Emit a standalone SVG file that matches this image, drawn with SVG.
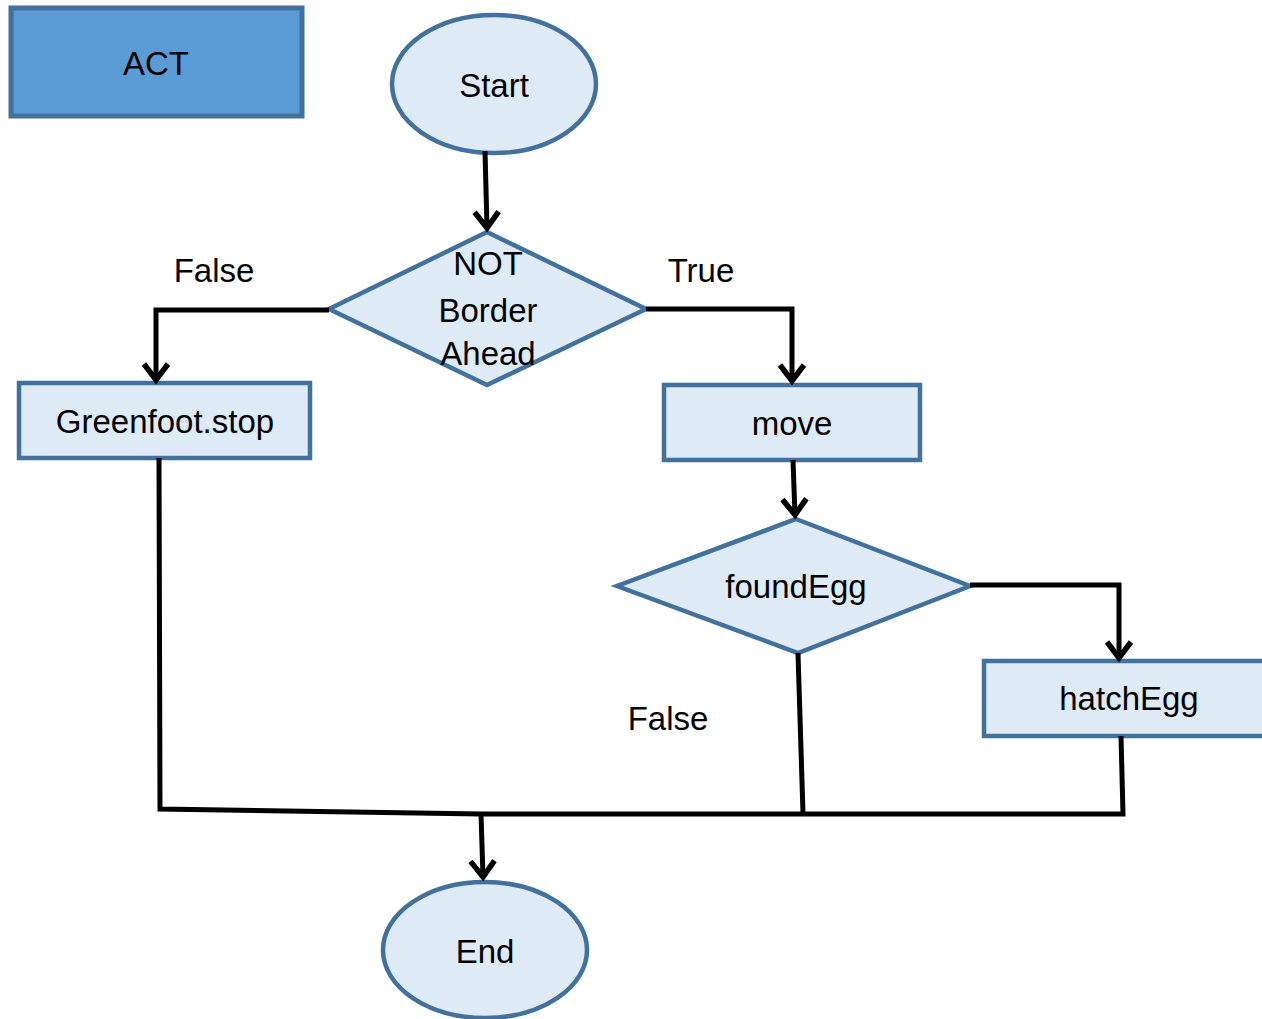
<svg xmlns="http://www.w3.org/2000/svg" width="1262" height="1019" viewBox="0 0 1262 1019">
<style>
.n{fill:#DEEAF6;stroke:#41719C;stroke-width:4.5}
.act{fill:#5B9BD5;stroke:#41719C;stroke-width:5}
.t{font-family:"Liberation Sans",Arial,sans-serif;font-size:33px;fill:#000;text-anchor:middle}
.c{fill:none;stroke:#000;stroke-width:5;stroke-linejoin:miter}
</style>
<defs>
<marker id="ah" markerUnits="userSpaceOnUse" markerWidth="34" markerHeight="34" refX="22" refY="17" orient="auto" viewBox="0 0 34 34">
<path d="M6,5 L22,17 L6,29" fill="none" stroke="#000" stroke-width="5.5"/>
</marker>
</defs>
<g id="act"><rect class="act" x="11" y="8" width="291" height="108"/><text class="t" x="156" y="75">ACT</text></g>
<g id="start"><ellipse class="n" cx="494" cy="84" rx="102" ry="69"/><text class="t" x="494" y="97">Start</text></g>
<g id="decision1"><polygon class="n" points="487,232 646,309 487,385 329,309"/><text class="t" x="488" y="275">NOT</text><text class="t" x="488" y="322">Border</text><text class="t" x="488" y="365">Ahead</text></g>
<g id="stop"><rect class="n" x="19" y="383" width="291" height="75"/><text class="t" x="165" y="433">Greenfoot.stop</text></g>
<g id="move"><rect class="n" x="664" y="385" width="256" height="75"/><text class="t" x="792" y="435">move</text></g>
<g id="decision2"><polygon class="n" points="796,519 970,586 798,653 617,586"/><text class="t" x="796" y="598">foundEgg</text></g>
<g id="hatch"><rect class="n" x="984" y="661" width="284" height="75"/><text class="t" x="1129" y="710">hatchEgg</text></g>
<g id="end"><ellipse class="n" cx="485" cy="950" rx="102" ry="68"/><text class="t" x="485" y="963">End</text></g>
<g id="connectors">
<path class="c" d="M485,151 L487,228" marker-end="url(#ah)"/>
<path class="c" d="M329,310 L156,310 L156,380" marker-end="url(#ah)"/>
<path class="c" d="M646,309 L792,309 L792,381" marker-end="url(#ah)"/>
<path class="c" d="M793,460 L795,515" marker-end="url(#ah)"/>
<path class="c" d="M970,585 L1119,585 L1119,658" marker-end="url(#ah)"/>
<path class="c" d="M159,458 L160,809 L481,814"/>
<path class="c" d="M798,653 L803,813"/>
<path class="c" d="M1121,736 L1123,814 L481,814"/>
<path class="c" d="M481,814 L483,877" marker-end="url(#ah)"/>
</g>
<g id="labels">
<text class="t" x="214" y="282">False</text>
<text class="t" x="701" y="282">True</text>
<text class="t" x="668" y="730">False</text>
</g>
</svg>
